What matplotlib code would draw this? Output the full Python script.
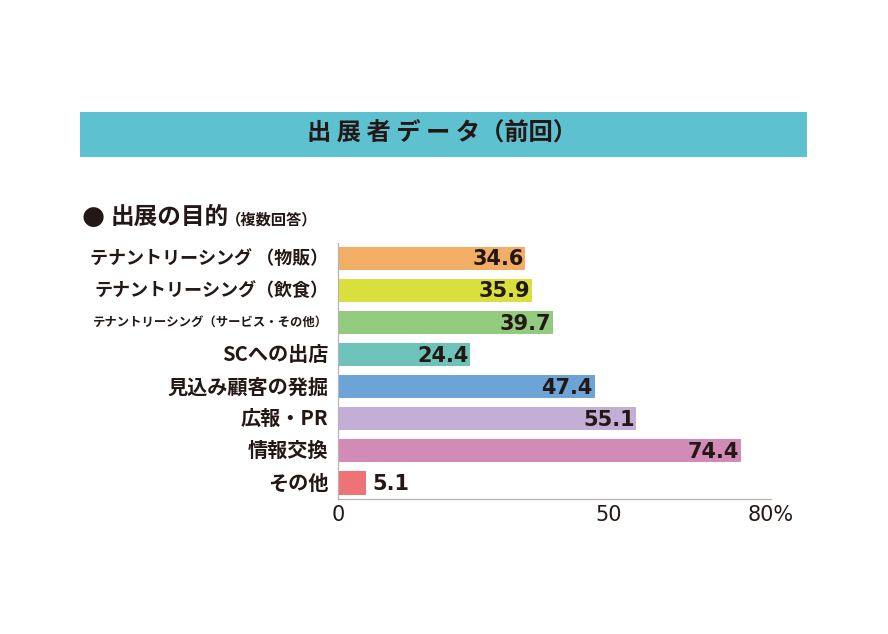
import matplotlib
matplotlib.use("Agg")
import matplotlib.pyplot as plt
from matplotlib.patches import Rectangle

plt.rcParams["font.family"] = ["Noto Sans CJK JP", "DejaVu Sans"]

categories = [
    "テナントリーシング （物販）",
    "テナントリーシング（飲食）",
    "テナントリーシング（サービス・その他）",
    "SCへの出店",
    "見込み顧客の発掘",
    "広報・PR",
    "情報交換",
    "その他",
]
values = [34.6, 35.9, 39.7, 24.4, 47.4, 55.1, 74.4, 5.1]
bar_colors = ["#F3AE65", "#D9E03D", "#92CA7E", "#6DC3BA",
              "#6CA4D8", "#C3AED5", "#D28BB6", "#EE7276"]
label_sizes = [13, 13, 8.9, 14.5, 14.5, 14.5, 14.5, 14.5]
tick_values = [0, 50, 80]
tick_labels = ["0", "50", "80%"]

TEXT = "#231815"

fig = plt.figure(figsize=(8.88, 6.34), dpi=100)
fig.patch.set_facecolor("white")

# header band
fig.patches.append(Rectangle((80 / 888, 1 - 157 / 634), 727 / 888, 45 / 634,
                             transform=fig.transFigure, facecolor="#5EC1D0",
                             edgecolor="none", zorder=0))
fig.text(442 / 888, 1 - 134 / 634, "出 展 者 デ ー タ（前回）", ha="center", va="center",
         fontsize=17.5, fontweight="bold", color=TEXT)

# section heading
fig.text(81 / 888, 1 - 217 / 634, "●", ha="left", va="center",
         fontsize=19, color=TEXT, family=["DejaVu Sans"])
fig.text(111 / 888, 1 - 217 / 634, "出展の目的", ha="left", va="center",
         fontsize=17, fontweight="bold", color=TEXT)
fig.text(226 / 888, 1 - 219 / 634, "（複数回答）", ha="left", va="center",
         fontsize=11, fontweight="bold", color=TEXT)

ax = fig.add_axes([338 / 888, 1 - 499 / 634, 433 / 888, 256 / 634])
y = list(range(len(categories)))
ax.barh(y, values, height=0.72, color=bar_colors, edgecolor="none")
ax.set_xlim(0, 80)
ax.set_ylim(7.5, -0.48)

for i, v in enumerate(values):
    if v > 10:
        ax.text(v - 0.3, i + 0.03, f"{v}", ha="right", va="center",
                fontsize=15, fontweight="bold", color=TEXT, family=["DejaVu Sans"])
    else:
        ax.text(v + 1.3, i + 0.03, f"{v}", ha="left", va="center",
                fontsize=15, fontweight="bold", color=TEXT, family=["DejaVu Sans"])

ax.set_yticks(y)
ax.set_yticklabels([])
for i, (cat, fs) in enumerate(zip(categories, label_sizes)):
    ax.text(-1.8, i, cat, ha="right", va="center", fontsize=fs,
            fontweight="bold", color=TEXT)

ax.set_xticks(tick_values)
ax.set_xticklabels(tick_labels, fontsize=15, color=TEXT, family=["DejaVu Sans"])
ax.tick_params(axis="both", length=0, pad=4)

for side in ["top", "right"]:
    ax.spines[side].set_visible(False)
for side in ["left", "bottom"]:
    ax.spines[side].set_color("#b5b5b5")
    ax.spines[side].set_linewidth(0.9)

fig.savefig("out.png", dpi=100)
